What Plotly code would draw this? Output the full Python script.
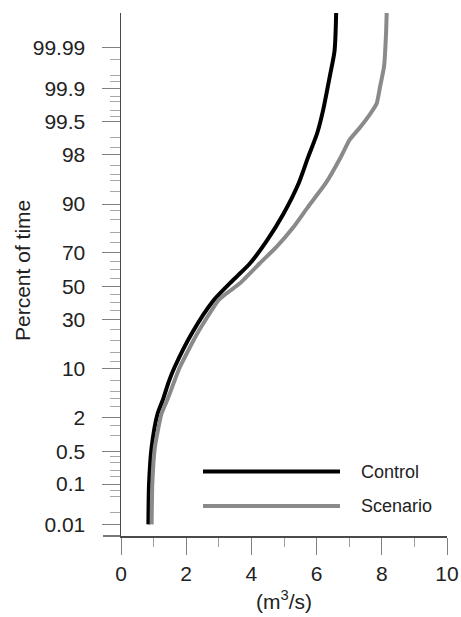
import plotly.graph_objects as go
from statistics import NormalDist

# ---- data (percent of time vs flow, m3/s) ----
control_pct = [0.01, 0.1, 0.6, 2.3, 4, 6.7, 10.2, 23, 41, 54, 64, 76, 87, 94.6, 97.8, 99.16, 99.7, 99.95, 99.988, 99.999]
control_q = [0.84, 0.86, 0.94, 1.12, 1.30, 1.46, 1.64, 2.17, 2.83, 3.45, 3.96, 4.47, 4.98, 5.45, 5.74, 6.02, 6.20, 6.41, 6.55, 6.60]

scenario_pct = [0.01, 0.1, 0.6, 2.3, 4, 10.2, 23, 41, 45.6, 51.8, 64, 73, 82, 89, 94.6, 97.8, 98.9, 99.34, 99.64, 99.78, 99.91, 99.97, 99.996, 99.999]
scenario_q = [0.94, 0.96, 1.04, 1.24, 1.44, 1.80, 2.34, 2.98, 3.24, 3.65, 4.26, 4.77, 5.28, 5.72, 6.28, 6.74, 7.02, 7.33, 7.64, 7.84, 7.95, 8.07, 8.13, 8.15]

y_tick_pct = [0.01, 0.1, 0.5, 2, 10, 30, 50, 70, 90, 98, 99.5, 99.9, 99.99]
y_tick_text = ["0.01", "0.1", "0.5", "2", "10", "30", "50", "70", "90", "98", "99.5", "99.9", "99.99"]
y_minor_pct = [0.02, 0.05, 0.07, 0.15, 0.2, 0.3, 0.4, 1, 1.5, 3, 4, 5, 7, 12, 15, 20, 25, 35, 40, 45,
               55, 60, 65, 75, 80, 85, 88, 93, 95, 96, 97, 98.5, 99, 99.6, 99.7, 99.8, 99.85, 99.93, 99.95, 99.98]
x_ticks = [0, 2, 4, 6, 8, 10]
x_minor = [1, 3, 5, 7, 9]

nd = NormalDist()
def z(p):
    return nd.inv_cdf(p / 100.0)

FONT = "Liberation Sans, Arial, sans-serif"
TXT = "#222222"
AX = "#4a4a4a"

fig = go.Figure()
fig.add_trace(go.Scatter(x=control_q, y=[z(p) for p in control_pct], mode="lines",
                         line=dict(color="#000000", width=4, shape="spline", smoothing=0.7),
                         name="Control", showlegend=False, hoverinfo="skip"))
fig.add_trace(go.Scatter(x=scenario_q, y=[z(p) for p in scenario_pct], mode="lines",
                         line=dict(color="#8a8a8a", width=4, shape="spline", smoothing=0.5),
                         name="Scenario", showlegend=False, hoverinfo="skip"))

W, H = 461, 617
L, R, T, B = 121, 14, 13, 81
pw, ph = W - L - R, H - T - B

fig.update_layout(
    width=W, height=H,
    margin=dict(l=L, r=R, t=T, b=B, autoexpand=False),
    paper_bgcolor="white", plot_bgcolor="white",
    font=dict(family=FONT, size=21, color=TXT),
    xaxis=dict(range=[0, 10], tickvals=x_ticks, ticktext=[str(v) for v in x_ticks],
               ticks="outside", ticklen=17, tickwidth=1, tickcolor="#808080",
               minor=dict(tickvals=x_minor, ticks="outside", ticklen=9, tickwidth=1, tickcolor="#a0a0a0"),
               showline=True, linecolor=AX, linewidth=1.5, showgrid=False, zeroline=False,
               tickfont=dict(size=21, color=TXT, family=FONT), ticklabelstandoff=1),
    yaxis=dict(range=[z(0.0048), z(99.999)], tickvals=[z(p) for p in y_tick_pct], ticktext=y_tick_text,
               ticks="outside", ticklen=18, tickwidth=1, tickcolor="#808080",
               minor=dict(tickvals=[z(p) for p in y_minor_pct], ticks="outside", ticklen=10, tickwidth=1,
                          tickcolor="#a8a8a8"),
               showline=True, linecolor=AX, linewidth=1.5, showgrid=False, zeroline=False,
               tickfont=dict(size=21, color=TXT, family=FONT), ticklabelstandoff=12),
)

# x-axis line extended left past the y axis
fig.add_shape(type="line", xref="paper", yref="paper", x0=-18 / pw, x1=0, y0=0, y1=0,
              line=dict(color=AX, width=1.5))

def px_x(xp):
    return (xp - L) / pw
def px_y(yp):
    return (H - B - yp) / ph

# axis titles
fig.add_annotation(xref="paper", yref="paper", x=px_x(22), y=px_y(270),
                   text="Percent of time", textangle=-90, showarrow=False,
                   xanchor="center", yanchor="middle", font=dict(size=21, color=TXT, family=FONT))
fig.add_annotation(xref="paper", yref="paper", x=0.5, y=px_y(600),
                   text="(m<sup>3</sup>/s)", showarrow=False,
                   xanchor="center", yanchor="middle", font=dict(size=21, color=TXT, family=FONT))

# manual legend
legend_items = [("Control", "#000000", 471.5), ("Scenario", "#8a8a8a", 506)]
for name, col, ypx in legend_items:
    yp = px_y(ypx)
    fig.add_shape(type="line", xref="paper", yref="paper", x0=px_x(203), x1=px_x(340),
                  y0=yp, y1=yp, line=dict(color=col, width=4))
    fig.add_annotation(xref="paper", yref="paper", x=px_x(359), y=yp, text=name, showarrow=False,
                       xanchor="left", yanchor="middle", font=dict(size=18, color=TXT, family=FONT))

fig.write_html("out.html", config={"displayModeBar": False, "staticPlot": True},
               post_script="document.body.style.margin='0';document.body.style.overflow='hidden';")
